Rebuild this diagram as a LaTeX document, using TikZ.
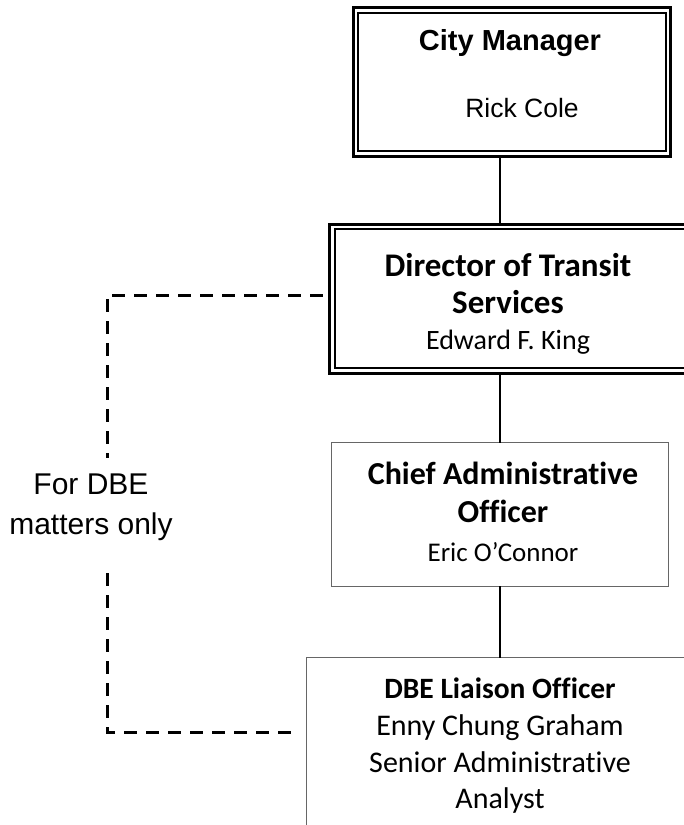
\documentclass[tikz,border=0pt]{standalone}
\usepackage{fontspec}
\setmainfont{Carlito}[Ligatures=NoCommon]
\newfontfamily\arialf{Liberation Sans}
\usetikzlibrary{calc}
\newcommand{\fs}[2]{\fontsize{#1}{#2}\selectfont}
\begin{document}
\begin{tikzpicture}[x=1pt,y=-1pt,
  cal/.style={font=\fs{30}{#1}, align=center, inner sep=0pt},
  ari/.style={font=\arialf\fs{29}{40}, align=center, inner sep=0pt},
  boxn/.style={draw=none, inner sep=0pt},
  outerl/.style={line width=3pt, black},
  innerl/.style={line width=2pt, black},
  plainbox/.style={line width=1.2pt, draw=black!60},
  conn/.style={line width=1.3pt, black},
  dline/.style={line width=3pt, black, dash pattern=on 13pt off 9pt}]
\useasboundingbox (0,0) rectangle (684,825);

% boxes
\node[boxn, minimum width=317pt, minimum height=148.5pt] (cm) at (512,82.25) {};
\node[boxn, minimum width=360pt, minimum height=148.5pt] (dts) at (510,298.75) {};
\node[boxn, minimum width=336pt, minimum height=143pt] (cao) at (500,514.5) {};
\node[boxn, minimum width=386pt, minimum height=187pt] (dbe) at (500,751.5) {};

\draw[outerl] (cm.north west) rectangle (cm.south east);
\draw[innerl] ([shift={(5pt,-5.5pt)}]cm.north west) rectangle ([shift={(-5pt,5.5pt)}]cm.south east);
\draw[outerl] (dts.north west) rectangle (dts.south east);
\draw[innerl] ([shift={(5pt,-5pt)}]dts.north west) rectangle ([shift={(-5pt,5pt)}]dts.south east);
\draw[plainbox] (cao.north west) rectangle (cao.south east);
\draw[plainbox] (dbe.north west) rectangle (dbe.south east);

% texts
\node[ari, font=\arialf\bfseries\fs{29}{38}] (cmt1) at (510,43) {City Manager};
\node[ari, font=\arialf\fs{26.5}{38}] (cmt2) at (522,108) {Rick Cole};
\node[cal=36.5] (dtst) at (508,304) {{\fs{33}{36.5}\bfseries Director of Transit}\\{\fs{33}{36.5}\bfseries Services}\\{\fs{28}{36.5}Edward F. King}};
\node[cal=38.5] (caot) at (503,511.5) {{\fs{32}{38.5}\bfseries Chief Administrative}\\{\fs{32}{38.5}\bfseries Officer}\\{\fs{27}{38.5}Eric O’Connor}};
\node[cal=36.7] (dbet) at (500,746) {{\fs{29.5}{36.7}\bfseries DBE Liaison Officer}\\{\fs{30}{36.7}Enny Chung Graham}\\{\fs{30}{36.7}Senior Administrative}\\{\fs{30}{36.7}Analyst}};
\node[ari, font=\arialf\fs{30}{40}] (lbl) at (91,507) {For DBE\\matters only};

% connectors
\draw[conn] (cm.south -| cao.north) -- (dts.north -| cao.north);
\draw[conn] (dts.south -| cao.north) -- (cao.north);
\draw[conn] (cao.south) -- (dbe.north);

% dashed reporting line
\coordinate (tl) at (107,295);
\coordinate (g1) at (107,458);
\coordinate (g2) at (107,573);
\coordinate (bl) at (107,732);
\draw[dline] ($(dts.west |- tl)+(-7,0)$) -- (tl) -- (g1);
\draw[dline] (g2) -- (bl) -- ($(dbe.west |- bl)+(-8,0)$);
\end{tikzpicture}
\end{document}
